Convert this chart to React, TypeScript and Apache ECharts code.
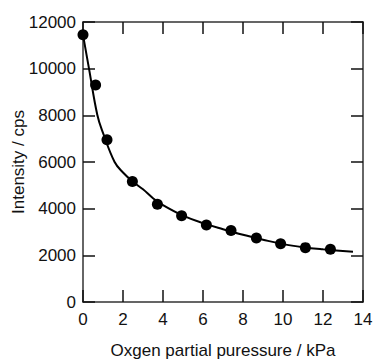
import React, { useEffect, useRef } from "react";
import * as echarts from "echarts";

const pressureKPa = [0, 0.63, 1.2, 2.47, 3.72, 4.93, 6.17, 7.4, 8.67, 9.88, 11.12, 12.37];
const intensityCps = [11450, 9300, 6950, 5160, 4190, 3700, 3300, 3060, 2740, 2500, 2330, 2260];

const fitPressure = [0, 0.3, 0.72, 1.0, 1.58, 2.0, 2.5, 3.0, 3.5, 4.0, 5.0, 6.0, 7.0, 8.0, 9.0, 10.0, 11.0, 12.0, 13.5];
const fitIntensity = [11450, 10000, 8000, 7250, 6000, 5550, 5150, 4830, 4450, 4150, 3700, 3380, 3120, 2880, 2670, 2480, 2350, 2260, 2150];

const xTitle = "Oxgen partial puressure / kPa";
const yTitle = "Intensity / cps";

export default function App() {
  const ref = useRef<HTMLDivElement>(null);
  useEffect(() => {
    if (!ref.current) return;
    const chart = echarts.init(ref.current, null, { renderer: "svg" });
    const font = "'Liberation Sans', Arial, sans-serif";
    const axisLine = { show: true, onZero: false, lineStyle: { color: "#333", width: 1.5 } };
    const axisTick = { show: true, inside: true, length: 12, lineStyle: { color: "#111", width: 1.5 } };
    const label = { color: "#111", fontSize: 17, fontFamily: font, formatter: (v: number) => String(v) };
    chart.setOption({
      animation: false,
      backgroundColor: "#fff",
      grid: { left: 83, right: 10, top: 22, bottom: 60, outerBoundsMode: "none", containLabel: false },
      xAxis: [
        {
          type: "value", position: "bottom", min: 0, max: 14, interval: 2,
          axisLine, axisTick, splitLine: { show: false },
          axisLabel: { ...label, margin: 9 },
          name: xTitle, nameLocation: "middle", nameGap: 40, nameMoveOverlap: false,
          nameTextStyle: { color: "#111", fontSize: 17, fontFamily: font },
        },
        {
          type: "value", position: "top", min: 0, max: 14, interval: 2,
          axisLine, axisTick, splitLine: { show: false }, axisLabel: { show: false },
        },
      ],
      yAxis: [
        {
          type: "value", position: "left", min: 0, max: 12000, interval: 2000,
          axisLine, axisTick, splitLine: { show: false },
          axisLabel: { ...label, margin: 7 },
          name: yTitle, nameLocation: "middle", nameGap: 56, nameMoveOverlap: false,
          nameTextStyle: { color: "#111", fontSize: 17, fontFamily: font },
        },
        {
          type: "value", position: "right", min: 0, max: 12000, interval: 2000,
          axisLine, axisTick, splitLine: { show: false }, axisLabel: { show: false },
        },
      ],
      series: [
        {
          type: "line",
          data: fitPressure.map((p, i) => [p, fitIntensity[i]]),
          smooth: 0.4,
          showSymbol: false,
          symbol: "none",
          lineStyle: { color: "#000", width: 2 },
          z: 2,
        },
        {
          type: "scatter",
          data: pressureKPa.map((p, i) => [p, intensityCps[i]]),
          symbol: "circle",
          symbolSize: 11,
          itemStyle: { color: "#000", opacity: 1 },
          z: 3,
        },
      ],
    });
    return () => chart.dispose();
  }, []);
  return <div ref={ref} style={{ position: "fixed", left: 0, top: 0, width: 373, height: 362 }} />;
}
